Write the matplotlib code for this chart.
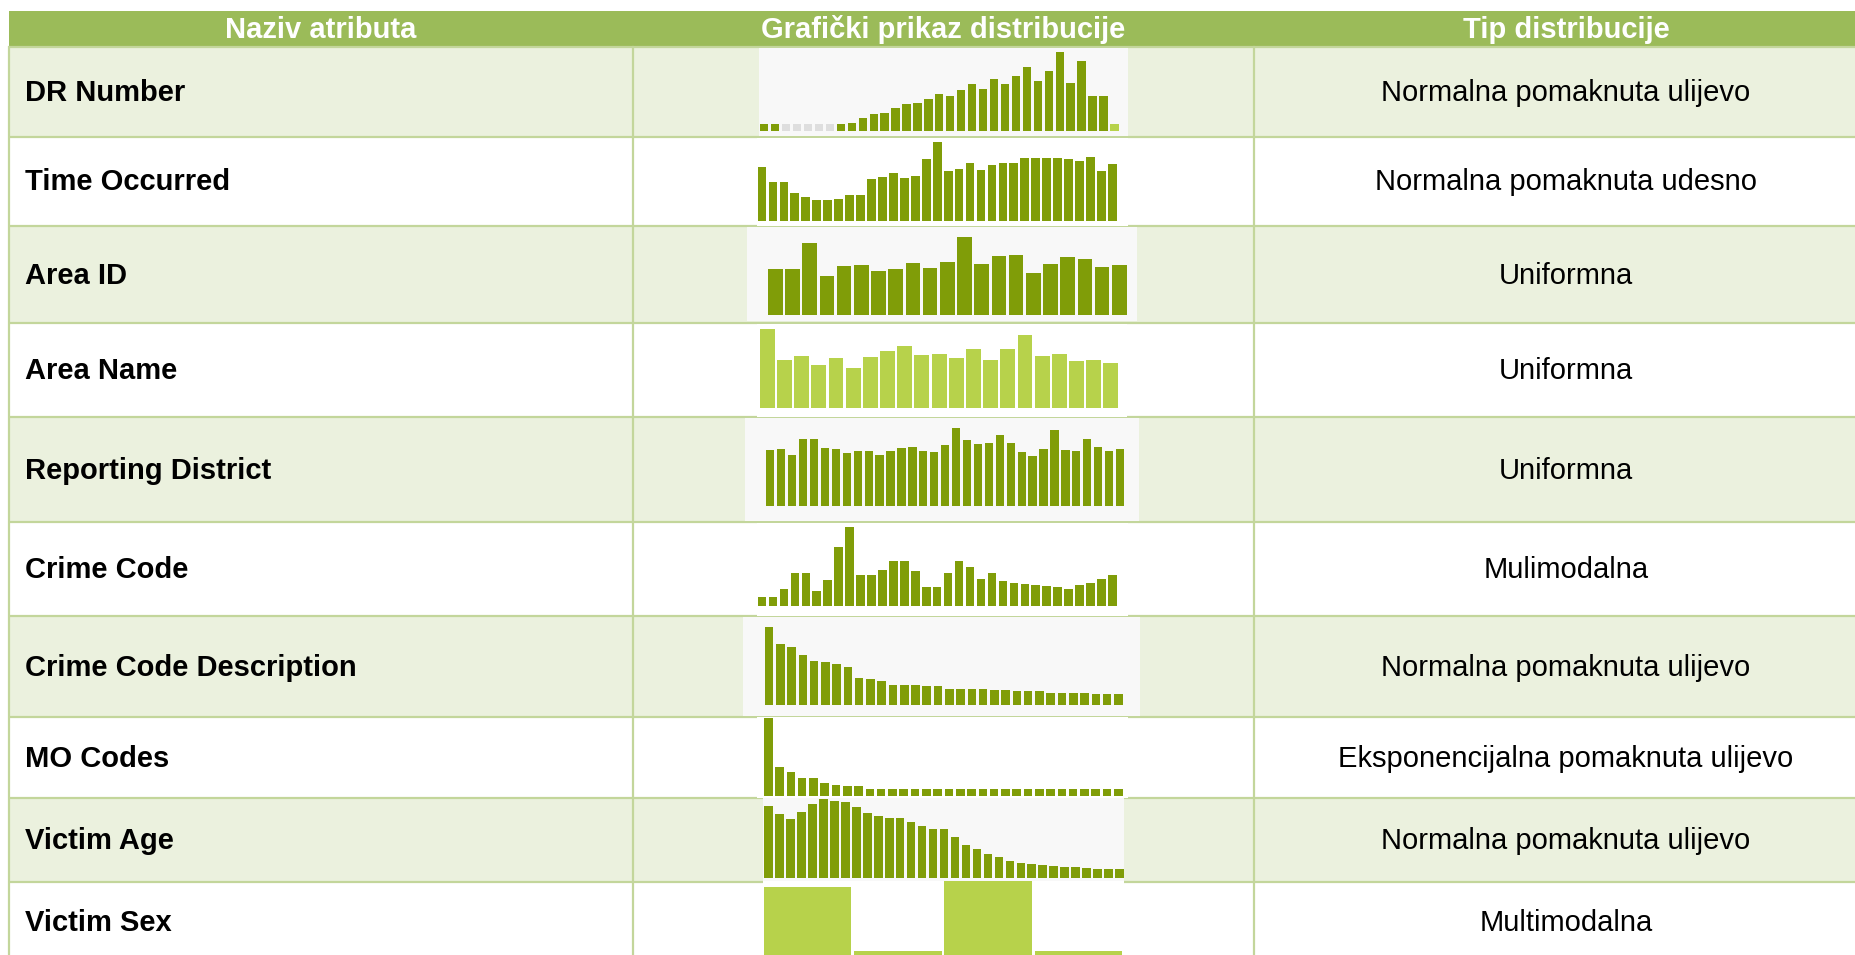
import matplotlib
matplotlib.use("Agg")
import matplotlib.pyplot as plt
from matplotlib.patches import Rectangle

W, H = 1856, 955
plt.rcParams['font.family'] = ['Liberation Sans', 'DejaVu Sans']

headers = ["Naziv atributa", "Grafički prikaz distribucije", "Tip distribucije"]
attr_names = ["DR Number", "Time Occurred", "Area ID", "Area Name", "Reporting District",
              "Crime Code", "Crime Code Description", "MO Codes", "Victim Age", "Victim Sex"]
dist_types = ["Normalna pomaknuta ulijevo", "Normalna pomaknuta udesno", "Uniformna",
              "Uniformna", "Uniformna", "Mulimodalna", "Normalna pomaknuta ulijevo",
              "Eksponencijalna pomaknuta ulijevo", "Normalna pomaknuta ulijevo", "Multimodalna"]

# bar heights (relative units)
dr_number = [22, 22, 22, 22, 22, 22, 22, 22, 25, 38, 50, 55, 68, 80, 84, 97, 112, 106, 122,
             141, 127, 156, 142, 166, 193, 150, 180, 238, 144, 209, 105, 105, 22]
dr_number_kind = ['d', 'd', 'g', 'g', 'g', 'g', 'g'] + ['d'] * 25 + ['l']
time_occurred = [161, 118, 118, 84, 71, 64, 64, 66, 78, 78, 125, 133, 143, 129, 136, 186, 238,
                 150, 155, 173, 154, 168, 173, 173, 189, 189, 189, 189, 185, 180, 191, 150, 170]
area_id = [138, 138, 214, 115, 145, 149, 130, 136, 156, 139, 157, 234, 153, 175, 180, 124,
           151, 174, 167, 144, 150]
area_name = [238, 144, 157, 130, 150, 120, 155, 172, 187, 159, 163, 150, 179, 144, 179, 220,
             156, 163, 141, 144, 135]
reporting_district = [168, 171, 154, 201, 201, 175, 172, 159, 166, 166, 154, 166, 175, 177,
                      166, 164, 183, 235, 200, 187, 189, 214, 189, 163, 152, 171, 229, 168,
                      166, 203, 177, 166, 171]
crime_code = [27, 27, 50, 99, 99, 45, 78, 177, 237, 92, 92, 107, 133, 133, 105, 55, 55, 99,
              135, 117, 81, 99, 74, 69, 65, 63, 59, 57, 50, 62, 69, 81, 93]
crime_code_desc = [232, 181, 173, 150, 132, 127, 121, 114, 80, 77, 72, 60, 60, 60, 56, 55,
                   48, 48, 48, 47, 43, 43, 42, 40, 40, 35, 35, 35, 35, 31, 31, 31]
mo_codes = [236, 89, 74, 56, 56, 40, 34, 32, 32, 22, 22, 22, 22, 22, 22, 22, 22, 22, 22, 22,
            22, 22, 22, 22, 22, 22, 22, 22, 22, 22, 22, 22]
victim_age = [215, 192, 178, 198, 222, 238, 232, 228, 213, 196, 185, 179, 179, 168, 157, 148,
              148, 122, 100, 86, 72, 62, 52, 46, 43, 39, 35, 33, 32, 29, 28, 28, 28]
victim_sex = [263, 72, 282, 72]

series = [dr_number, time_occurred, area_id, area_name, reporting_district,
          crime_code, crime_code_desc, mo_codes, victim_age, victim_sex]

DARK = '#809D08'
LIGHT = '#B7D24B'
GRAY = '#DEDEDE'
HEAD = '#9BBB59'
ROWBG = '#EBF1DE'
LINE = '#C3D69B'
IMGBG = '#F8F8F8'

# table layout in pixels
row_edges = [47, 137, 226, 323, 417, 522, 616, 717, 798, 882, 962]
col_edges = [9, 633, 1254, 1878]
head_top = 11

# sparkline boxes: (x0, y0, x1, y1, bg, first centre, pitch, width, baseline, colour)
spark = [
    (759, 48, 1128, 136, IMGBG, 764.3, 10.94, 0.76, 131.0, DARK),
    (757, 138, 1128, 226, 'white', 762.0, 10.95, 0.80, 221.0, DARK),
    (747, 227, 1137, 321, IMGBG, 775.3, 17.2, 0.85, 314.7, DARK),
    (757, 324, 1127, 417, 'white', 767.3, 17.18, 0.87, 408.3, LIGHT),
    (745, 418, 1139, 521, IMGBG, 770.3, 10.93, 0.76, 506.3, DARK),
    (757, 523, 1128, 616, 'white', 762.0, 10.95, 0.78, 605.7, DARK),
    (743, 617, 1140, 716, IMGBG, 769.0, 11.27, 0.76, 704.7, DARK),
    (757, 717, 1128, 798, 'white', 768.3, 11.29, 0.76, 796.3, DARK),
    (763, 798, 1124, 881, IMGBG, 768.7, 10.96, 0.78, 878.0, DARK),
    (763, 881, 1124, 990, 'white', 807.5, 90.3, 0.97, 975.0, LIGHT),
]

fig = plt.figure(figsize=(W / 100, H / 100), dpi=100)
bg = fig.add_axes([0, 0, 1, 1])
bg.set_xlim(0, W)
bg.set_ylim(H, 0)
bg.axis('off')

# header
bg.add_patch(Rectangle((col_edges[0], head_top), col_edges[-1] - col_edges[0],
                       row_edges[0] - head_top, color=HEAD, lw=0))
for i, h in enumerate(headers):
    cx = (col_edges[i] + col_edges[i + 1]) / 2
    bg.text(cx, (head_top + row_edges[0]) / 2 + 1, h, color='white', fontsize=21,
            fontweight='bold', ha='center', va='center')

# body rows
for r in range(len(attr_names)):
    y0, y1 = row_edges[r], row_edges[r + 1]
    if r % 2 == 0:
        bg.add_patch(Rectangle((col_edges[0], y0), col_edges[-1] - col_edges[0], y1 - y0,
                               color=ROWBG, lw=0))
    yc = (y0 + y1) / 2
    bg.text(25, yc + 1, attr_names[r], fontsize=21, fontweight='bold', ha='left', va='center')
    bg.text((col_edges[2] + col_edges[3]) / 2, yc + 1, dist_types[r], fontsize=21,
            ha='center', va='center')

for y in row_edges[:-1]:
    bg.plot([col_edges[0], col_edges[-1]], [y, y], color=LINE, lw=1.6, solid_capstyle='butt')
for x in col_edges[:-1]:
    bg.plot([x, x], [row_edges[0], H + 5], color=LINE, lw=1.6)

# sparklines
for r, vals in enumerate(series):
    x0, y0, x1, y1, fc, c0, p, wf, base, col = spark[r]
    ax = fig.add_axes([x0 / W, 1 - y1 / H, (x1 - x0) / W, (y1 - y0) / H])
    ax.set_facecolor(fc)
    colors = [col] * len(vals)
    if r == 0:
        colors = [{'d': DARK, 'g': GRAY, 'l': LIGHT}[k] for k in dr_number_kind]
    ax.bar(range(len(vals)), vals, width=wf, color=colors, lw=0)
    ax.set_xlim((x0 - c0) / p, (x1 - c0) / p)
    # 3 units per pixel
    ax.set_ylim(-(y1 - base) * 3, (base - y0) * 3)
    ax.set_xticks([])
    ax.set_yticks([])
    for s in ax.spines.values():
        s.set_visible(False)

fig.savefig('out.png', dpi=100)
